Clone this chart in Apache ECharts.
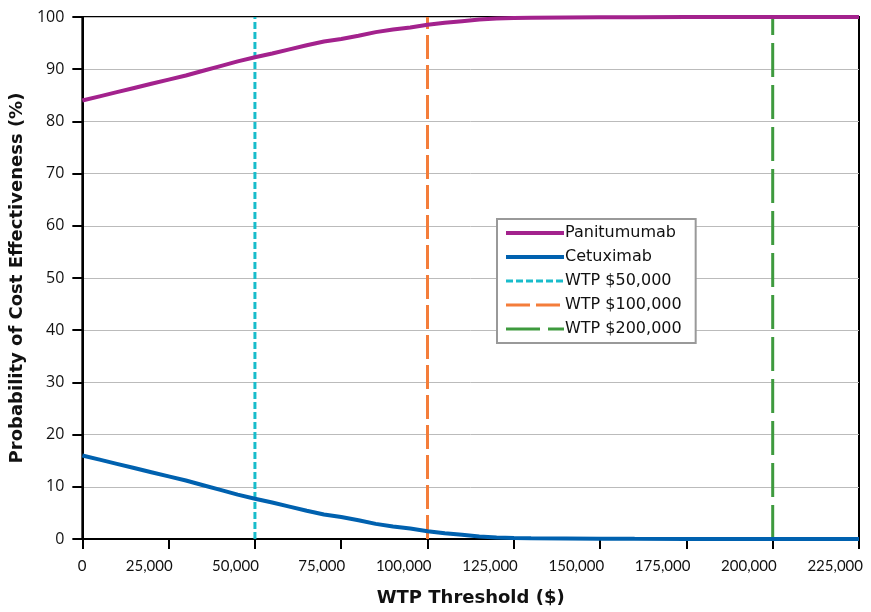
<!DOCTYPE html>
<html><head><meta charset="utf-8">
<script src="https://cdn.jsdelivr.net/npm/echarts@6/dist/echarts.min.js"></script>
<style>html,body{margin:0;padding:0;background:#fff}#c{width:871px;height:612px}</style>
</head><body><div id="c"></div>
<script>
const wtp = [0,5000,10000,15000,20000,25000,30000,35000,40000,45000,50000,55000,60000,65000,70000,75000,80000,85000,90000,95000,100000,105000,110000,115000,120000,125000,130000,140000,150000,160000,175000,200000,225000];
const panitumumab = [84.0,84.8,85.6,86.4,87.2,88.0,88.8,89.7,90.6,91.5,92.3,93.0,93.8,94.6,95.3,95.8,96.4,97.1,97.6,98.0,98.5,98.9,99.2,99.5,99.7,99.8,99.85,99.9,99.95,99.97,99.98,100,100];
const cetuximab = [16.0,15.2,14.4,13.6,12.8,12.0,11.2,10.3,9.4,8.5,7.7,7.0,6.2,5.4,4.7,4.2,3.6,2.9,2.4,2.0,1.5,1.1,0.8,0.5,0.3,0.2,0.15,0.1,0.05,0.03,0.02,0,0];
const wtpLines = [
  {name:'WTP $50,000', x:50000},
  {name:'WTP $100,000', x:100000},
  {name:'WTP $200,000', x:200000}
];
const yRange = [0, 100];
const xTicks = {min:0, max:225000, interval:25000};

const colors = {pan:'#A3228D', cet:'#0061AF', w50:'#19BCCB', w100:'#F47D3A', w200:'#3E9A3E'};
const dashes = [[7,3],[24,6],[34,8]];
const wColors = [colors.w50, colors.w100, colors.w200];
const FONT = 'Lato';
const FONT2 = 'Open Sans';
const FONT3 = 'DejaVu Sans';

const chart = echarts.init(document.getElementById('c'));
const series = [
  {name:'Panitumumab', type:'line', symbol:'none', data:wtp.map((x,i)=>[x,panitumumab[i]]), lineStyle:{color:colors.pan,width:4}, itemStyle:{color:colors.pan}, z:5},
  {name:'Cetuximab', type:'line', symbol:'none', data:wtp.map((x,i)=>[x,cetuximab[i]]), lineStyle:{color:colors.cet,width:4}, itemStyle:{color:colors.cet}, z:5}
];
wtpLines.forEach((w,i)=>{
  series.push({name:w.name, type:'line', symbol:'none', data:[[w.x,yRange[0]],[w.x,yRange[1]]],
    lineStyle:{color:wColors[i], width:3, type:dashes[i]}, itemStyle:{color:wColors[i]}, z:4});
});
chart.setOption({
  animation:false,
  grid:{left:81, right:12, top:17, bottom:67, show:true, borderColor:'#000', borderWidth:2, backgroundColor:'transparent'},
  legend:{orient:'vertical', left:497, top:219, padding:[6,14,6,7], itemGap:8, itemWidth:58, itemHeight:16,
    backgroundColor:'#fff', borderColor:'#999', borderWidth:2, borderRadius:0,
    itemStyle:{opacity:0},
    textStyle:{fontFamily:FONT3, fontSize:16, color:'#111', padding:[0,0,0,-4]},
    data:series.map((s,i)=>({name:s.name, lineStyle:{width: i<2?4:3}}))},
  xAxis:{type:'value', min:xTicks.min, max:xTicks.max, interval:xTicks.interval,
    name:'WTP Threshold ($)', nameLocation:'middle', nameGap:50,
    nameTextStyle:{fontFamily:FONT3, fontSize:18, fontWeight:'bold', color:'#111'},
    axisLine:{lineStyle:{color:'#000', width:2}},
    axisTick:{show:true, length:10, lineStyle:{color:'#000', width:2}},
    axisLabel:{fontFamily:FONT, fontSize:15, color:'#111', align:'right', margin:20, padding:[0,-4,0,0],
      formatter:v=>v.toLocaleString('en-US')},
    splitLine:{show:false}},
  yAxis:{type:'value', min:yRange[0], max:yRange[1], interval:10,
    name:'Probability of Cost Effectiveness (%)', nameLocation:'middle', nameGap:48,
    nameTextStyle:{fontFamily:FONT3, fontSize:18, fontWeight:'bold', color:'#111'},
    axisLine:{show:true, lineStyle:{color:'#000', width:2}},
    axisTick:{show:true, length:10, lineStyle:{color:'#000', width:2}},
    axisLabel:{fontFamily:FONT2, fontSize:16, color:'#111', margin:18},
    splitLine:{show:true, lineStyle:{color:'#bbb', width:1}}},
  series:series
});
</script></body></html>
